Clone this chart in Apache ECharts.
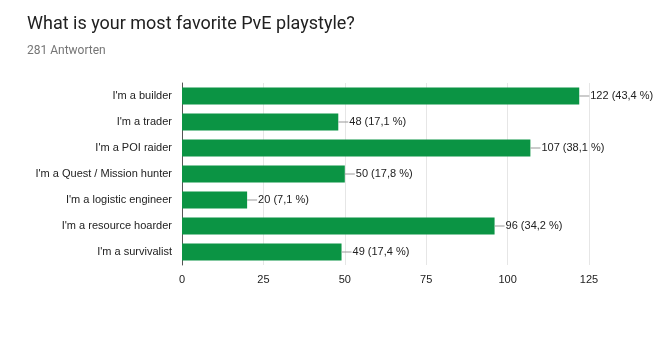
<!DOCTYPE html>
<html><head><meta charset="utf-8">
<script src="https://cdn.jsdelivr.net/npm/echarts@6/dist/echarts.min.js"></script>
<style>html,body{margin:0;padding:0;background:#fff}#c{width:665px;height:352px}</style>
</head><body><div id="c"></div>
<script>
const categories = ["I'm a builder","I'm a trader","I'm a POI raider","I'm a Quest / Mission hunter","I'm a logistic engineer","I'm a resource hoarder","I'm a survivalist"];
const counts = [122,48,107,50,20,96,49];
const percents = ["43,4","17,1","38,1","17,8","7,1","34,2","17,4"];
const xTicks = [0,25,50,75,100,125];

const chart = echarts.init(document.getElementById('c'));
chart.setOption({
  animation:false,
  title:{text:'What is your most favorite PvE playstyle?',subtext:'281 Antworten',left:22,top:10,itemGap:12,
    textStyle:{fontFamily:'Roboto',fontSize:18,fontWeight:'normal',color:'#212121'},
    subtextStyle:{fontFamily:'Roboto',fontSize:12,color:'#757575'}},
  grid:{left:182,right:76,top:83,bottom:87},
  xAxis:{type:'value',min:0,max:125,interval:25,
    axisLine:{show:false},axisTick:{show:false},
    splitLine:{lineStyle:{color:'#e6e6e6'}},
    axisLabel:{color:'#222',fontFamily:'Liberation Sans',fontSize:11,margin:9}},
  yAxis:{type:'category',data:categories,inverse:true,
    axisLine:{lineStyle:{color:'#555',width:1}},axisTick:{show:false},
    axisLabel:{color:'#222',fontFamily:'Liberation Sans',fontSize:11,margin:10}},
  series:[{type:'bar',data:counts,barCategoryGap:'35%',
    itemStyle:{color:'#0b9444'},
    label:{show:true,position:'right',distance:0,
      formatter:(p)=>'{l|}{t|'+counts[p.dataIndex]+' ('+percents[p.dataIndex]+' %)}',
      rich:{l:{width:10,height:1,backgroundColor:'#999'},
            t:{color:'#222',fontFamily:'Liberation Sans',fontSize:11,padding:[0,0,0,1]}}}}]
});
</script></body></html>
